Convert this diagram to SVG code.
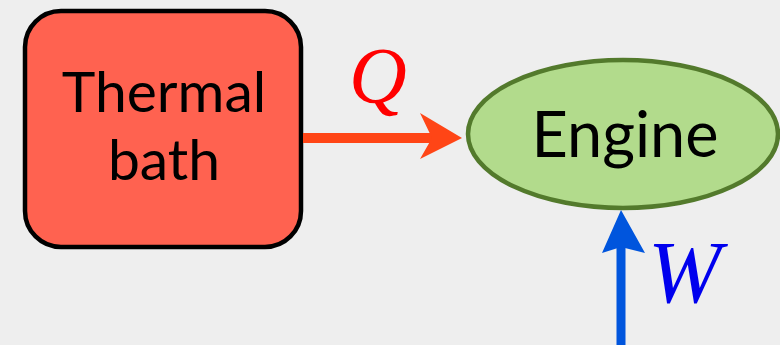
<svg xmlns="http://www.w3.org/2000/svg" width="780" height="345" viewBox="0 0 780 345">
<style>
.lbl{font-family:Lato,"Open Sans","Liberation Sans",sans-serif;fill:#000;text-anchor:middle}
.math{font-family:"Liberation Serif","DejaVu Serif",serif;font-style:italic}
</style>
<rect width="780" height="345" fill="#EEEEEE"/>
<g id="bath">
<rect x="25" y="11" width="276" height="236" rx="36" ry="36" fill="#FF6250" stroke="#000" stroke-width="4.5"/>
<text class="lbl" x="164" y="112" font-size="57">Thermal</text>
<text class="lbl" x="164" y="180" font-size="57">bath</text>
</g>
<g id="engine">
<ellipse cx="623" cy="134" rx="155" ry="74" fill="#B2DB8C" stroke="#537A2C" stroke-width="4.5"/>
<text class="lbl" x="625" y="157" font-size="63">Engine</text>
</g>
<g id="connectors">
<line x1="303" y1="138" x2="432" y2="138" stroke="#FF4516" stroke-width="10"/>
<polygon points="462,138 420,113 432,138 420,159" fill="#FF4516"/>
<line x1="621" y1="345" x2="621" y2="240" stroke="#0055DD" stroke-width="9"/>
<polygon points="621,210 602,253 621,247 645,253" fill="#0055DD"/>
<text class="math" x="349" y="103" font-size="80" fill="#FF0000">Q</text>
<text class="math" x="648" y="302" font-size="88" fill="#0000EE">W</text>
</g>
</svg>
